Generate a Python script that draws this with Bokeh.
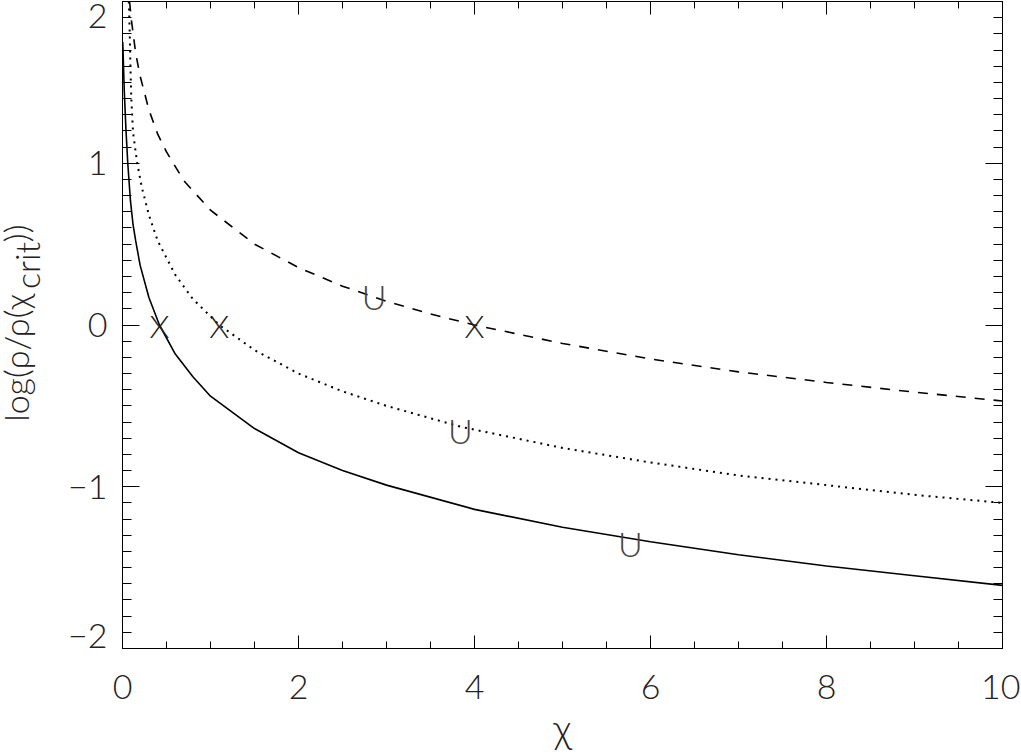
import math
from bokeh.plotting import figure
from bokeh.layouts import row
from bokeh.models import Range1d, LinearAxis, SingleIntervalTicker
from bokeh.core.properties import value
from bokeh.embed import file_html
from bokeh.resources import INLINE

# ---- data ----
solid_x = [0.003, 0.02, 0.04, 0.06, 0.09, 0.12, 0.15, 0.2, 0.3, 0.42, 0.6, 0.8, 1.0,
           1.5, 2.0, 2.5, 3.0, 4.0, 5.0, 6.0, 7.0, 8.0, 9.0, 10.0]
solid_y = [1.75, 1.45, 1.2, 1.0, 0.77, 0.62, 0.52, 0.37, 0.17, 0.0, -0.18, -0.32, -0.44,
           -0.64, -0.79, -0.90, -0.99, -1.14, -1.25, -1.34, -1.42, -1.49, -1.55, -1.61]

dotted_x = [0.072, 0.08, 0.09, 0.10, 0.12, 0.167, 0.22, 0.3, 0.4, 0.6, 0.8, 1.1, 1.5,
            2.0, 2.5, 3.0, 3.85, 5.0, 6.0, 7.0, 8.0, 9.0, 10.0]
dotted_y = [2.0, 1.85, 1.6, 1.4, 1.19, 1.0, 0.85, 0.68, 0.52, 0.31, 0.16, 0.0, -0.155,
            -0.30, -0.41, -0.50, -0.63, -0.76, -0.85, -0.93, -0.99, -1.05, -1.10]

dashed_x = [0.08, 0.1, 0.15, 0.2, 0.3, 0.4, 0.5, 0.7, 1.0, 1.5, 2.0, 2.5, 3.0, 3.5,
            4.0, 5.0, 6.0, 7.0, 8.0, 9.0, 10.0]
dashed_y = [2.0, 1.89, 1.68, 1.54, 1.33, 1.18, 1.07, 0.89, 0.71, 0.50, 0.355, 0.24,
            0.147, 0.068, 0.0, -0.114, -0.21, -0.29, -0.355, -0.415, -0.47]

cross_x = [0.42, 1.1, 4.0]
cross_y = [0.0, 0.0, 0.0]
u_x = [2.86, 3.84, 5.77]
u_y = [0.175, -0.65, -1.35]

y_ticks = [-2, -1, 0, 1, 2]
y_tick_labels = ["\u22122", "\u22121", "0", "1", "2"]
x_title = "\u03c7"
y_title_main = "log(\u03c1/\u03c1(\u03c7"
y_title_sub = "crit"
y_title_end = "))"

# ---- layout / style ----
FONT = "Lato Light"
INK = "#222222"
H = 754
LEFT_W = 110
MAIN_W = 910
FRAME_TOP = 1        # page px
FRAME_BOTTOM = 649   # page px
Y0, Y1 = -2.0, 2.0

p = figure(width=MAIN_W, height=H, x_range=Range1d(0, 10), y_range=Range1d(Y0, Y1),
           output_backend="svg", toolbar_location=None,
           min_border_left=12, min_border_right=18, min_border_top=FRAME_TOP,
           min_border_bottom=H - FRAME_BOTTOM)
p.grid.visible = False
p.outline_line_color = "black"
p.outline_line_width = 1
p.background_fill_color = "white"
p.border_fill_color = "white"


def style_axis(ax, tick_len, minor_len, show_labels):
    ax.axis_line_color = "black"
    ax.major_tick_line_color = "black"
    ax.minor_tick_line_color = "black"
    ax.major_tick_in = tick_len
    ax.major_tick_out = 0
    ax.minor_tick_in = minor_len
    ax.minor_tick_out = 0
    if not show_labels:
        ax.major_label_text_font_size = "0px"
        ax.major_label_text_color = None
        ax.major_label_standoff = 0


xa = p.xaxis[0]
xa.ticker = SingleIntervalTicker(interval=2, num_minor_ticks=4)
style_axis(xa, 13, 7, True)
xa.major_label_text_font = FONT
xa.major_label_text_font_size = "34px"
xa.major_label_text_color = INK
xa.major_label_standoff = 26
xa.axis_label = x_title
xa.axis_label_text_font = FONT
xa.axis_label_text_font_size = "40px"
xa.axis_label_text_font_style = "normal"
xa.axis_label_text_color = INK
xa.axis_label_standoff = 2

ya = p.yaxis[0]
ya.ticker = SingleIntervalTicker(interval=1, num_minor_ticks=10)
style_axis(ya, 17, 9, False)

top = LinearAxis(ticker=SingleIntervalTicker(interval=2, num_minor_ticks=4))
style_axis(top, 13, 7, False)
p.add_layout(top, "above")
right = LinearAxis(ticker=SingleIntervalTicker(interval=1, num_minor_ticks=10))
style_axis(right, 17, 9, False)
p.add_layout(right, "right")

# curves
p.line(solid_x, solid_y, line_color="black", line_width=1.6)
p.line(dotted_x, dotted_y, line_color="black", line_width=2, line_dash="2 5")
p.line(dashed_x, dashed_y, line_color="black", line_width=1.6, line_dash="10 9")

# markers drawn as characters
p.text(x=cross_x, y=cross_y, text=["X"] * len(cross_x), text_font=value(FONT),
       text_font_size="32px", text_align="center", text_baseline="middle", text_color=INK)
p.text(x=u_x, y=u_y, text=["U"] * len(u_x), text_font=value(FONT),
       text_font_size="34px", text_align="center", text_baseline="alphabetic",
       text_color="#444444")

# ---- left strip: y tick labels and y title, frame aligned with the main frame ----
k = (Y1 - Y0) / (FRAME_BOTTOM - FRAME_TOP)
q = figure(width=LEFT_W, height=H, x_range=Range1d(0, LEFT_W), y_range=Range1d(Y0, Y1),
           output_backend="svg", toolbar_location=None,
           x_axis_location=None, y_axis_location=None, min_border=0)
q.outline_line_color = None
q.background_fill_color = "white"
q.border_fill_color = "white"
q.grid.visible = False


def page_y(py):
    return Y1 - (py - FRAME_TOP) * k


label_nudge = [-13, 0, 0, 0, 14]   # px, keeps the end labels inside the strip
q.text(x=[107] * len(y_ticks), y=y_ticks, text=y_tick_labels, y_offset=label_nudge,
       text_font=value(FONT), text_font_size="34px", text_align="right",
       text_baseline="middle", text_color=INK)

start = 422  # page y where the rotated title begins (reads upwards)
pieces = [(y_title_main, 15, start), (y_title_sub, 26, start - 133),
          (y_title_end, 15, start - 133 - 47)]
for txt, bx, sy in pieces:
    q.text(x=[bx], y=[page_y(sy)], text=[txt], angle=math.pi / 2,
           text_font=value(FONT), text_font_size="34px", text_align="left",
           text_baseline="alphabetic", text_color=INK)

open("out.html", "w").write(file_html(row(q, p), INLINE))
